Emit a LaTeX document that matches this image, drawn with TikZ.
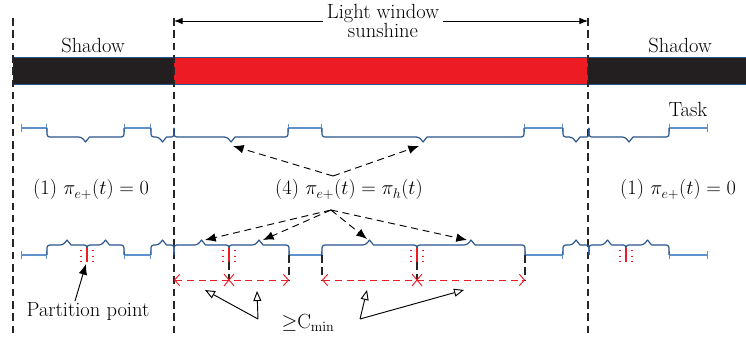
\documentclass[tikz,border=0pt]{standalone}
\usepackage{amsmath}
\usepackage{amssymb}
\usetikzlibrary{arrows.meta}
\definecolor{shadowgray}{RGB}{35,31,32}
\definecolor{sunred}{RGB}{237,28,36}
\definecolor{taskblue}{RGB}{40,85,140}
\definecolor{idleblue}{RGB}{95,145,205}

\begin{document}
\begin{tikzpicture}[x=0.3mm, y=-0.3mm, line join=round, font=\fontsize{17.5}{15.5}\selectfont,
    guide/.style={dash pattern=on 6.5pt off 4pt, line width=0.9pt, black!85},
    idle/.style={idleblue, line width=0.9pt, {Bar[width=2.6mm]}-{Bar[width=2.6mm]}},
    job/.style={taskblue, line width=1pt, rounded corners=0.8mm},
    pointer/.style={dash pattern=on 6pt off 4pt, line width=0.8pt, -{Latex[length=3.2mm, width=2.6mm]}},
    span/.style={sunred, dash pattern=on 6pt off 4pt, line width=0.8pt,
        {Straight Barb[length=1.5mm, width=3.4mm]}-{Straight Barb[length=1.5mm, width=3.4mm]}},
    hint/.style={line width=0.8pt, -{Triangle[open, length=3mm, width=2.4mm]}}]

    \useasboundingbox (0,0) rectangle (746,343);

    % Window edges x=174 and x=588; task rows at y=128 and y=255
    \coordinate (wL) at (174,21);
    \coordinate (wR) at (588,21);
    \coordinate (up) at (333,176);
    \coordinate (dn) at (331,210);
    \coordinate (ptail) at (75,301);
    \coordinate (phead) at (86,264);
    \coordinate (cl) at (258,319);
    \coordinate (cr) at (360,319);

    % Shadow / sunshine bar
    \fill[shadowgray] (13,57) rectangle (174,84);
    \fill[sunred] (174,57) rectangle (588,84);
    \fill[shadowgray] (588,57) rectangle (746,84);
    \draw[taskblue, line width=0.6pt] (13,57) -- (746,57) (13,84) -- (746,84);

    % Window boundaries
    \foreach \x in {13,174,588}
        \draw[guide] (\x,18) -- (\x,333);

    % Row 1: idle gaps and tasks
    \foreach \a/\b in {21/47, 124/151, 288/322, 524/563, 669/708}
        \draw[idle] (\a,128) -- (\b,128);
    \foreach \a/\b in {47/124, 151/174, 174/288, 322/524, 563/589, 589/669} {
        \pgfmathsetmacro\m{(\a+\b)/2}
        \draw[job] (\a,128) -- (\a,137) -- (\m-4,137) [sharp corners] -- (\m,142) -- (\m+4,137) [rounded corners=0.8mm] -- (\b,137) -- (\b,128);
    }

    % Row 2: tasks cut at partition points
    \foreach \a/\b in {21/47, 124/151, 289/322, 525/563, 669/708}
        \draw[idle] (\a,255) -- (\b,255);
    \foreach \a/\b in {47/87, 87/124, 151/174, 174/229, 229/289, 322/417, 417/525, 563/589, 589/626, 626/669} {
        \pgfmathsetmacro\m{(\a+\b)/2}
        \draw[job] (\a,255) -- (\a,245) -- (\m-4,245) [sharp corners] -- (\m,240) -- (\m+4,245) [rounded corners=0.8mm] -- (\b,245) -- (\b,255);
    }

    % Partition points
    \foreach \p in {87,229,417,626} {
        \draw[sunred, line width=1.5pt] (\p,248) -- (\p,262);
        \draw[sunred, dash pattern=on 0.8pt off 4pt, line width=0.9pt] (\p-6,250) -- (\p-6,262) (\p+6,250) -- (\p+6,262);
    }

    % Minimum lengths
    \draw[guide] (229,262) -- (229,280) (289,255) -- (289,280) (322,255) -- (322,280)
        (417,262) -- (417,280) (525,255) -- (525,280);
    \draw[span] (174,280) -- (289,280);
    \draw[span] (322,280) -- (525,280);
    \foreach \c in {229,417}
        \draw[sunred, line width=0.8pt] (\c-5,274) -- (\c+5,286) (\c-5,286) -- (\c+5,274);

    % Labels
    \node[anchor=base] (shadowL) at (93,53) {Shadow};
    \node[anchor=base] (shadowR) at (680,53) {Shadow};
    \node[align=center] (window) at (383,21) {Light window\\sunshine};
    \node[anchor=base] (task) at (688,117) {Task};
    \node[anchor=base] (eqL) at (91,195) {(1) $\pi_{e+}(t)=0$};
    \node[anchor=base] (eqM) at (349,195) {(4) $\pi_{e+}(t)=\pi_h(t)$};
    \node[anchor=base] (eqR) at (678,195) {(1) $\pi_{e+}(t)=0$};
    \node[anchor=base] (part) at (88,317) {Partition point};
    \node[anchor=base] (cmin) at (308,328) {$\geq$C$_{\min}$};

    % Arrows
    \draw[line width=0.8pt, -{Latex[length=2.6mm, width=2mm]}] (window) -- (wL);
    \draw[line width=0.8pt, -{Latex[length=2.6mm, width=2mm]}] (window) -- (wR);
    \draw[pointer] (up) -- (233,146);
    \draw[pointer] (up) -- (419,146);
    \draw[pointer] (dn) -- (205,240);
    \draw[pointer] (dn) -- (263,240);
    \draw[pointer] (dn) -- (367,239);
    \draw[pointer] (dn) -- (467,240);
    \draw[line width=0.8pt, -{Latex[length=3.2mm, width=2.6mm]}] (ptail) -- (phead);
    \draw[hint] (cl) -- (205,290);
    \draw[hint] (cl) -- (257,291);
    \draw[hint] (cr) -- (367,290);
    \draw[hint] (cr) -- (464,290);

\end{tikzpicture}
\end{document}
